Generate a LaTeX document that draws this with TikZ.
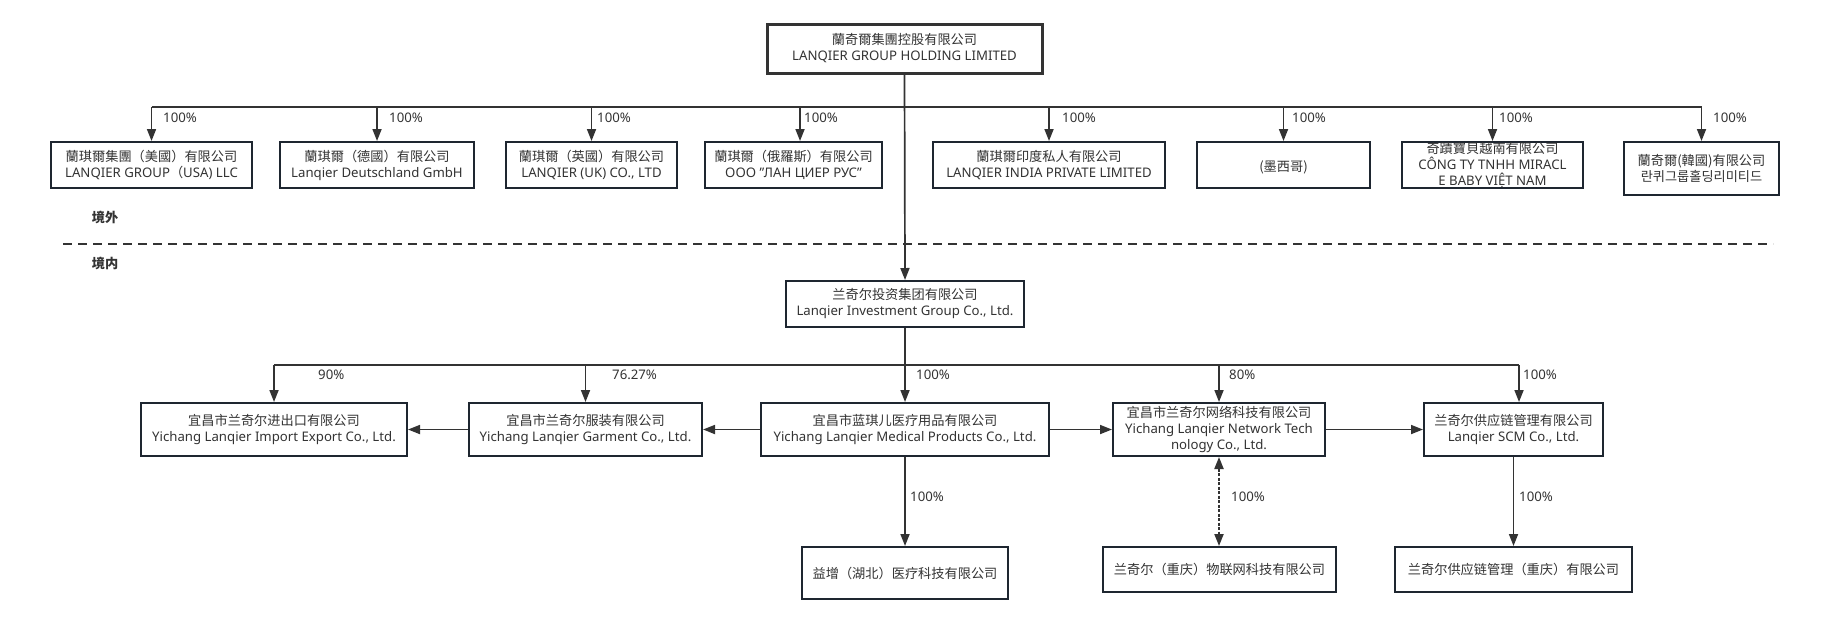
\documentclass[tikz,border=0pt]{standalone}
\usepackage{fontspec}
\setmainfont{Noto Sans}
\newfontfamily\cjk{Noto Sans CJK SC}
\newfontfamily\kr{Noto Sans CJK KR}
\usetikzlibrary{arrows.meta}
\definecolor{boxc}{HTML}{1E2630}
\definecolor{linec}{HTML}{333333}
\definecolor{txt}{HTML}{333333}
\newcommand\fs{\fontsize{13.2}{16}\selectfont}
\begin{document}
\begin{tikzpicture}[x=1pt,y=-1pt,
  box/.style={draw=boxc, line width=2pt, fill=white, text=txt, align=center, inner sep=0pt, font=\fs},
  conn/.style={draw=linec, line width=1.7pt},
  arr/.style={conn, -{Triangle[length=12pt,width=9pt]}},
  darr/.style={conn, line width=2pt, dash pattern=on 3pt off 1.5pt, {Triangle[length=12pt,width=9pt]}-{Triangle[length=12pt,width=9pt]}},
  pct/.style={text=txt, font=\fs, anchor=west, inner sep=0pt},
  zone/.style={text=txt, font=\fs\cjk\bfseries, inner sep=0pt}]
\useasboundingbox[fill=white] (0,0) rectangle (1826,624);

% ---- top holding
\node[box, draw=linec, line width=3pt, minimum width=275, minimum height=49] (top) at (904.5,48.5)
  {{\cjk 蘭奇爾集團控股有限公司}\\LANQIER GROUP HOLDING LIMITED};

% ---- overseas subsidiaries
\node[box, minimum width=201, minimum height=46] (usa) at (151.5,165) {{\cjk 蘭琪爾集團（美國）有限公司}\\LANQIER GROUP{\cjk （}USA) LLC};
\node[box, minimum width=194, minimum height=46] (ger) at (377,165) {{\cjk 蘭琪爾（德國）有限公司}\\Lanqier Deutschland GmbH};
\node[box, minimum width=171, minimum height=46] (uk) at (591.5,165) {{\cjk 蘭琪爾（英國）有限公司}\\LANQIER (UK) CO., LTD};
\node[box, minimum width=177, minimum height=46] (rus) at (793.5,165) {{\cjk 蘭琪爾（俄羅斯）有限公司}\\OOO "ЛАН ЦИЕР РУС"};
\node[box, minimum width=232, minimum height=46] (ind) at (1049,165) {{\cjk 蘭琪爾印度私人有限公司}\\LANQIER INDIA PRIVATE LIMITED};
\node[box, minimum width=173, minimum height=46] (mex) at (1283.5,165) {\mbox{}\\{\cjk (墨西哥)}};
\node[box, minimum width=181, minimum height=46] (vie) at (1492.5,165) {{\cjk 奇蹟寶貝越南有限公司}\\CÔNG TY TNHH MIRACL\\E BABY VIỆT NAM};
\node[box, minimum width=155, minimum height=53] (kor) at (1701.5,168.5) {{\cjk 蘭奇爾(韓國)有限公司}\\{\kr 란퀴그룹홀딩리미티드}};

% ---- zone labels and border line
\node[zone] (out) at (105,217) {境外};
\node[zone] (in) at (105,263) {境内};
\coordinate (dl) at (63,244);
\coordinate (dr) at (1773,244);
\draw[conn, line width=1.5pt, dash pattern=on 9pt off 6pt] (dl) -- (dr);

% ---- domestic
\node[box, minimum width=238, minimum height=46] (inv) at (905,304) {{\cjk 兰奇尔投资集团有限公司}\\Lanqier Investment Group Co., Ltd.};
\node[box, minimum width=266, minimum height=53] (imp) at (274,429.5) {{\cjk 宜昌市兰奇尔进出口有限公司}\\Yichang Lanqier Import Export Co., Ltd.};
\node[box, minimum width=233, minimum height=53] (gar) at (585.5,429.5) {{\cjk 宜昌市兰奇尔服装有限公司}\\Yichang Lanqier Garment Co., Ltd.};
\node[box, minimum width=288, minimum height=53] (med) at (905,429.5) {{\cjk 宜昌市蓝琪儿医疗用品有限公司}\\Yichang Lanqier Medical Products Co., Ltd.};
\node[box, minimum width=212, minimum height=53] (net) at (1219,429.5) {{\cjk 宜昌市兰奇尔网络科技有限公司}\\Yichang Lanqier Network Tech\\nology Co., Ltd.};
\node[box, minimum width=179, minimum height=53] (scm) at (1513.5,429.5) {{\cjk 兰奇尔供应链管理有限公司}\\Lanqier SCM Co., Ltd.};
\node[box, minimum width=206, minimum height=52] (yiz) at (905,573) {\cjk 益增（湖北）医疗科技有限公司};
\node[box, minimum width=233, minimum height=45] (iot) at (1219.5,569.5) {\cjk 兰奇尔（重庆）物联网科技有限公司};
\node[box, minimum width=237, minimum height=45] (scq) at (1513.5,569.5) {\cjk 兰奇尔供应链管理（重庆）有限公司};

% ---- top bus
\coordinate (by) at (0,107);
\draw[conn] (top.south) -- (top.south |- by);
\draw[conn] (usa.north |- by) -- (kor.north |- by);
\draw[arr] (usa.north |- by) -- (usa.north);
\draw[arr] (ger.north |- by) -- (ger.north);
\draw[arr] (uk.north |- by) -- (uk.north);
\draw[arr] ([xshift=6.5pt]rus.north |- by) -- ([xshift=6.5pt]rus.north);
\draw[arr] (ind.north |- by) -- (ind.north);
\draw[arr] (mex.north |- by) -- (mex.north);
\draw[arr] (vie.north |- by) -- (vie.north);
\draw[arr] (kor.north |- by) -- (kor.north);
\draw[arr] (top.south) -- (inv.north);

\node[pct] (p1) at (163,118) {100\%};
\node[pct] (p2) at (389,118) {100\%};
\node[pct] (p3) at (597,118) {100\%};
\node[pct] (p4) at (804,118) {100\%};
\node[pct] (p5) at (1062,118) {100\%};
\node[pct] (p6) at (1292,118) {100\%};
\node[pct] (p7) at (1499,118) {100\%};
\node[pct] (p8) at (1713,118) {100\%};

% ---- lower bus
\coordinate (ly) at (0,365);
\draw[conn] (inv.south) -- (inv.south |- ly);
\draw[conn] (imp.north |- ly) -- ([xshift=5.5pt]scm.north |- ly);
\draw[arr] (imp.north |- ly) -- (imp.north);
\draw[arr] (gar.north |- ly) -- (gar.north);
\draw[arr] (med.north |- ly) -- (med.north);
\draw[arr] (net.north |- ly) -- (net.north);
\draw[arr] ([xshift=5.5pt]scm.north |- ly) -- ([xshift=5.5pt]scm.north);

\node[pct] (q1) at (318,375) {90\%};
\node[pct] (q2) at (612,375) {76.27\%};
\node[pct] (q3) at (916,375) {100\%};
\node[pct] (q4) at (1229,375) {80\%};
\node[pct] (q5) at (1523,375) {100\%};

% ---- horizontal links
\draw[arr] (med.west) -- (gar.east);
\draw[arr] (gar.west) -- (imp.east);
\draw[arr] (med.east) -- (net.west);
\draw[arr] (net.east) -- (scm.west);

% ---- downward links
\draw[arr] (med.south) -- (yiz.north);
\draw[darr] (net.south) -- (iot.north -| net.south);
\draw[arr] (scm.south) -- (scq.north);
\node[pct] (r1) at (910,497) {100\%};
\node[pct] (r2) at (1231,497) {100\%};
\node[pct] (r3) at (1519,497) {100\%};
\end{tikzpicture}
\end{document}
